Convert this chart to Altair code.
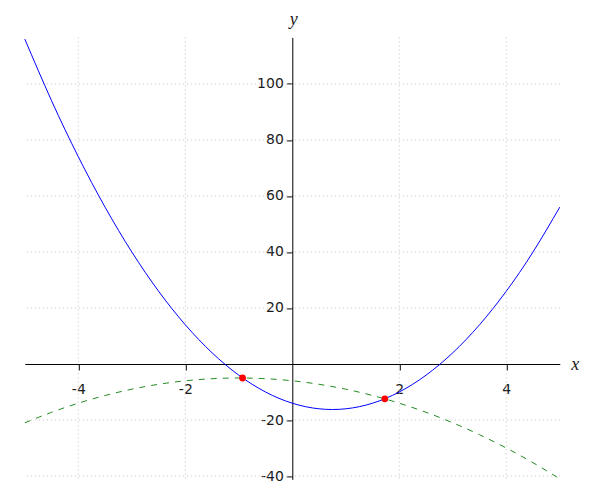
import altair as alt
import pandas as pd

# ---- data ----
xs = [-5, -4.5, -4, -3.5, -3, -2.5, -2, -1.5, -1, -0.5, 0,
      0.5, 1, 1.5, 2, 2.5, 3, 3.5, 4, 4.5, 5]
blue_y = [116, 94, 74, 56, 40, 26, 14, 4, -4, -10, -14,
          -16, -16, -14, -10, -4, 4, 14, 26, 40, 56]
green_y = [-21, -17.25, -14, -11.25, -9, -7.25, -6, -5.25, -5, -5.25, -6,
           -7.25, -9, -11.25, -14, -17.25, -21, -25.25, -30, -35.25, -41]
pt_x = [-0.93, 1.73]
pt_y = [-5.0, -12.45]
x_ticks = [-4, -2, 2, 4]
y_ticks = [-40, -20, 20, 40, 60, 80, 100]

x_dom = [-5, 5]
y_dom = [-41.2, 116.6]
W, H = 535, 442

# x-axis sits at y = 0 (measured from the bottom); y-axis at x = 0 (from the left)
xaxis_off = -(H * (0 - y_dom[0]) / (y_dom[1] - y_dom[0]))
yaxis_off = -(W * (0 - x_dom[0]) / (x_dom[1] - x_dom[0]))

label_col = "#1a1a1a"
xaxis = alt.Axis(values=x_ticks, offset=xaxis_off, grid=False,
                 domainColor="black", domainWidth=1, tickColor="black",
                 tickSize=6, tickWidth=1,
                 labelFont="DejaVu Sans", labelFontSize=14, labelColor=label_col,
                 labelPadding=13, labelFlush=False,
                 labelExpr="'' + datum.value",
                 title="x", titleFont="Liberation Serif", titleFontStyle="italic",
                 titleFontWeight="normal", titleFontSize=18, titleColor=label_col,
                 titleX=546, titleY=6, titleAlign="left", titleBaseline="alphabetic")
yaxis = alt.Axis(values=y_ticks, offset=yaxis_off, grid=False,
                 domainColor="black", domainWidth=1, tickColor="black",
                 tickSize=6, tickWidth=1,
                 labelFont="DejaVu Sans", labelFontSize=14, labelColor=label_col,
                 labelPadding=3, labelFlush=False,
                 labelExpr="'' + datum.value",
                 title="y", titleFont="Liberation Serif", titleFontStyle="italic",
                 titleFontWeight="normal", titleFontSize=18, titleColor=label_col,
                 titleAngle=0, titleX=1, titleY=-13, titleAlign="center",
                 titleBaseline="alphabetic")

xsc = alt.Scale(domain=x_dom, nice=False, zero=False)
ysc = alt.Scale(domain=y_dom, nice=False, zero=False)

def X(field):
    return alt.X(field, type="quantitative", scale=xsc, axis=xaxis)

def Y(field):
    return alt.Y(field, type="quantitative", scale=ysc, axis=yaxis)

curves = pd.DataFrame({"x": xs, "blue": blue_y, "green": green_y})
pts = pd.DataFrame({"x": pt_x, "y": pt_y})

grid_h = alt.Chart(pd.DataFrame({"y": y_ticks})).mark_rule(
    color="#c4c4c4", strokeDash=[1, 3], strokeWidth=1).encode(y=Y("y"))
grid_v = alt.Chart(pd.DataFrame({"x": x_ticks})).mark_rule(
    color="#c4c4c4", strokeDash=[1, 3], strokeWidth=1).encode(x=X("x"))

blue = alt.Chart(curves).mark_line(color="blue", strokeWidth=1,
                                   interpolate="natural").encode(x=X("x"), y=Y("blue"))
green = alt.Chart(curves).mark_line(color="#228B22", strokeWidth=1, strokeDash=[6, 6],
                                    interpolate="natural").encode(x=X("x"), y=Y("green"))
dots = alt.Chart(pts).mark_circle(color="red", size=46, opacity=1).encode(
    x=X("x"), y=Y("y"))

chart = alt.layer(grid_h, grid_v, blue, green, dots).properties(
    width=W, height=H,
    autosize=alt.AutoSizeParams(type="none"),
    padding={"left": 16.8, "top": 29.4, "right": 24, "bottom": 3},
    background="white",
).configure_view(stroke=None)

chart.save("out.html", embed_options={"renderer": "svg", "actions": False})
